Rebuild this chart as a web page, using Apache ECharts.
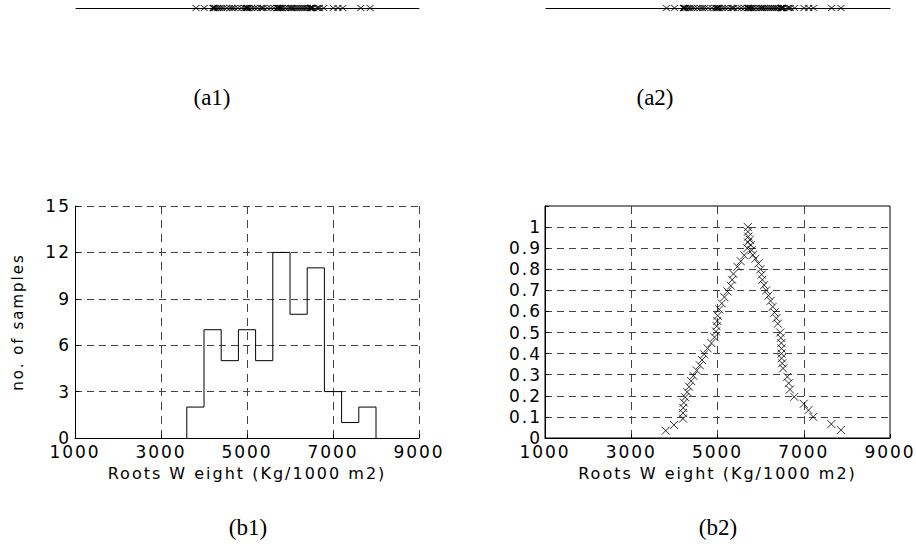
<!DOCTYPE html>
<html>
<head>
<meta charset="utf-8">
<script src="https://cdn.jsdelivr.net/npm/echarts@6/dist/echarts.min.js"></script>
<style>
  html, body { margin: 0; padding: 0; background: #fff; }
  #main { width: 916px; height: 550px; }
  /* the original figure has wide, spread out axis text */
  #main text[style*="DejaVu"] { letter-spacing: 2px; }
</style>
</head>
<body>
<div id="main"></div>
<script>
// histogram (b1): bin edges and number of samples per bin
var binEdges = [3600, 4000, 4400, 4800, 5200, 5600, 6000, 6400, 6800, 7200, 7600, 8000];
var binCounts = [2, 7, 5, 7, 5, 12, 8, 11, 3, 1, 2];

// roots weight of the samples (a1, a2) and their membership value (b2)
var rootWeight = [
  3800, 3990, 4200, 4200, 4205, 4220, 4250, 4300, 4340, 4390,
  4440, 4520, 4590, 4640, 4690, 4770, 4860, 4930, 4965, 4980,
  4995, 5005, 5040, 5100, 5160, 5230, 5310, 5340, 5370, 5460,
  5540, 5620, 5690, 5705, 5715, 5705, 5705,
  5750, 5770, 5790, 5820, 5880, 5950, 5995, 6025, 6040, 6080,
  6130, 6180, 6230, 6280, 6320, 6365, 6400, 6455, 6470, 6480,
  6482, 6484, 6486, 6500, 6520, 6620, 6650, 6680, 6780, 7000,
  7110, 7220, 7640, 7860
];
var membership = [
  0.035, 0.062, 0.092, 0.118, 0.143, 0.168, 0.193, 0.218, 0.243, 0.270,
  0.295, 0.320, 0.345, 0.370, 0.397, 0.425, 0.450, 0.478, 0.505, 0.530,
  0.555, 0.580, 0.610, 0.638, 0.668, 0.695, 0.722, 0.750, 0.778, 0.812,
  0.838, 0.866, 0.900, 0.928, 0.955, 0.978, 1.000,
  0.940, 0.915, 0.890, 0.868, 0.850, 0.828, 0.800, 0.775, 0.750, 0.725,
  0.700, 0.675, 0.650, 0.622, 0.595, 0.568, 0.542, 0.500, 0.475, 0.450,
  0.425, 0.400, 0.378, 0.354, 0.330, 0.290, 0.260, 0.230, 0.195, 0.162,
  0.132, 0.100, 0.066, 0.038
];

var xMin = 1000, xMax = 9000, xStep = 2000;
var captions = ['(a1)', '(a2)', '(b1)', '(b2)'];

var chart = echarts.init(document.getElementById('main'), null, { renderer: 'svg' });

var crossPath = 'path://M0,0L10,10M0,10L10,0';
var axisFont = 'DejaVu Sans';
var gridColor = '#444';

// outline of the histogram, drawn as a stepped line
var histLine = [[binEdges[0], 0]];
binCounts.forEach(function (c, i) {
  histLine.push([binEdges[i], c]);
});
histLine.push([binEdges[binEdges.length - 1], binCounts[binCounts.length - 1]]);
histLine.push([binEdges[binEdges.length - 1], 0]);

var stripData = rootWeight.map(function (v) { return [v, 0]; });
var memberData = rootWeight.map(function (v, i) { return [v, membership[i]]; });

function stripX(idx) {
  return {
    type: 'value', gridIndex: idx, min: xMin, max: xMax,
    axisLine: { show: true, onZero: false, lineStyle: { color: '#000', width: 1 } },
    axisTick: { show: false },
    axisLabel: { show: false },
    splitLine: { show: false }
  };
}

function stripY(idx) {
  return { type: 'value', gridIndex: idx, min: 0, max: 1, show: false };
}

var xName = {
  name: 'Roots W eight (Kg/1000 m2)',
  nameLocation: 'middle',
  nameGap: 27,
  nameTextStyle: { fontFamily: axisFont, fontSize: 16, color: '#000' }
};

function plotX(idx, boxed) {
  return Object.assign({
    type: 'value', gridIndex: idx, min: xMin, max: xMax, interval: xStep,
    axisLine: { show: true, onZero: false, lineStyle: { color: '#000', width: 1 } },
    axisTick: { show: true, inside: true, length: 4, lineStyle: { color: '#000' } },
    axisLabel: {
      fontFamily: axisFont, fontSize: 17, lineHeight: 13, color: '#000', margin: 7,
      formatter: function (v) { return String(v); }
    },
    splitLine: {
      show: true, showMaxLine: !boxed,
      lineStyle: { color: gridColor, width: 1, type: [8, 6] }
    }
  }, xName);
}

var option = {
  animation: false,
  backgroundColor: '#fff',
  grid: [
    { left: 76, top: 0, width: 343, height: 8 },
    { left: 546, top: 0, width: 344, height: 8 },
    { left: 75, top: 206, width: 344, height: 232 },
    { left: 545, top: 206, width: 345, height: 232, show: true, borderColor: '#000', borderWidth: 1 }
  ],
  xAxis: [stripX(0), stripX(1), plotX(2, false), plotX(3, true)],
  yAxis: [
    stripY(0),
    stripY(1),
    {
      type: 'value', gridIndex: 2, min: 0, max: 15, interval: 3,
      axisLine: { show: true, lineStyle: { color: '#000', width: 1 } },
      axisTick: { show: true, inside: true, length: 4, lineStyle: { color: '#000' } },
      axisLabel: { fontFamily: axisFont, fontSize: 17, lineHeight: 13, color: '#000', margin: 4 },
      splitLine: { show: true, lineStyle: { color: gridColor, width: 1, type: [7, 5] } },
      name: 'no. of samples',
      nameLocation: 'middle',
      nameGap: 50,
      nameTextStyle: { fontFamily: axisFont, fontSize: 15, color: '#000' }
    },
    {
      type: 'value', gridIndex: 3, min: 0, max: 1.1, interval: 0.1,
      axisLine: { show: true, lineStyle: { color: '#000', width: 1 } },
      axisTick: { show: true, inside: true, length: 4, lineStyle: { color: '#000' } },
      axisLabel: {
        fontFamily: axisFont, fontSize: 17, lineHeight: 13, color: '#000', margin: 3,
        formatter: function (v) {
          return v > 1.05 ? '' : String(Math.round(v * 10) / 10);
        }
      },
      splitLine: {
        show: true, showMaxLine: false,
        lineStyle: { color: gridColor, width: 1, type: [7, 5] }
      }
    }
  ],
  series: [
    {
      type: 'scatter', xAxisIndex: 0, yAxisIndex: 0, data: stripData,
      symbol: crossPath, symbolSize: [7, 6], silent: true,
      itemStyle: { color: 'none', borderColor: '#000', borderWidth: 1 }
    },
    {
      type: 'scatter', xAxisIndex: 1, yAxisIndex: 1, data: stripData,
      symbol: crossPath, symbolSize: [7, 6], silent: true,
      itemStyle: { color: 'none', borderColor: '#000', borderWidth: 1 }
    },
    {
      type: 'line', xAxisIndex: 2, yAxisIndex: 2, data: histLine,
      step: 'end', symbol: 'none', silent: true,
      lineStyle: { color: '#000', width: 1 }
    },
    {
      type: 'scatter', xAxisIndex: 3, yAxisIndex: 3, data: memberData,
      symbol: crossPath, symbolSize: 8, silent: true,
      itemStyle: { color: 'none', borderColor: '#000', borderWidth: 1 }
    }
  ],
  graphic: [
    { x: 212, y: 97 }, { x: 655, y: 97 }, { x: 248, y: 527 }, { x: 718, y: 527 }
  ].map(function (p, i) {
    return {
      type: 'text', x: p.x, y: p.y, silent: true,
      style: {
        text: captions[i], fill: '#000',
        font: '23px "Liberation Serif"',
        align: 'center', verticalAlign: 'middle'
      }
    };
  })
};

chart.setOption(option);
</script>
</body>
</html>
